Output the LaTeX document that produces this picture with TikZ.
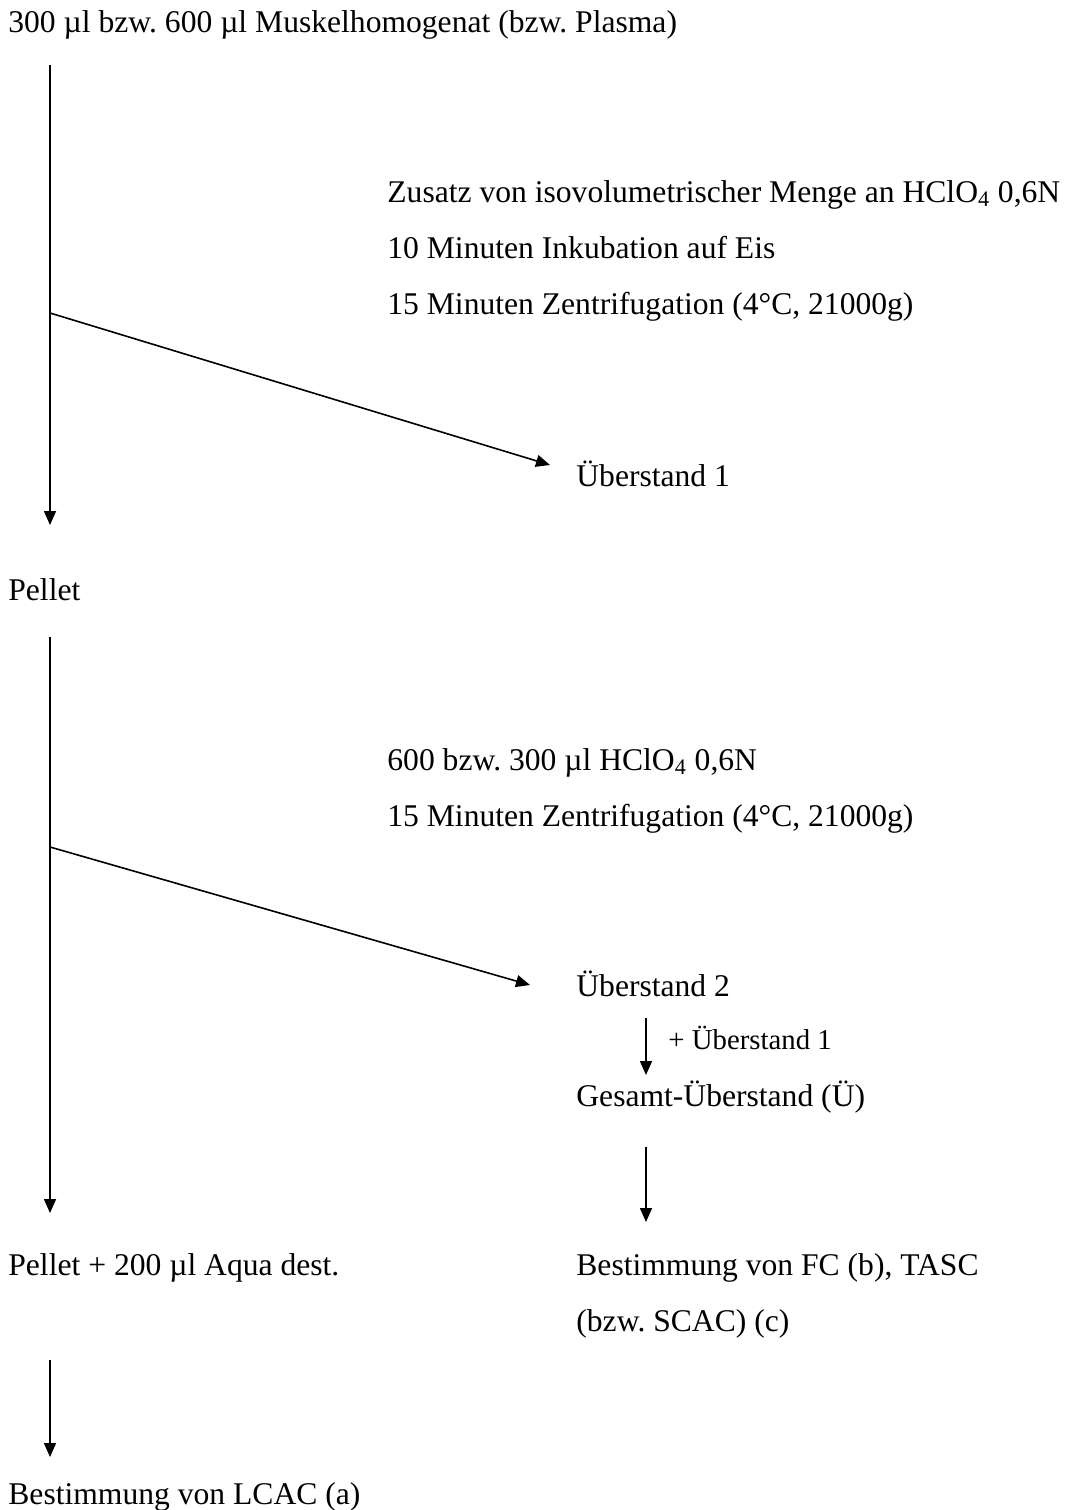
\documentclass[tikz,border=0pt]{standalone}
\usepackage{fontspec}
\setmainfont{Liberation Serif}
\usetikzlibrary{arrows.meta}
\frenchspacing

\begin{document}
\begin{tikzpicture}[x=0.5pt,y=-0.5pt,
  lbl/.style={anchor=base west,inner sep=0pt,font=\fontsize{15.8pt}{18pt}\selectfont},
  smalllbl/.style={anchor=base west,inner sep=0pt,font=\fontsize{14.4pt}{17pt}\selectfont},
  flow/.style={line width=0.8pt,-{Triangle[length=7pt,width=6pt]}}]
\path[use as bounding box] (0,0) rectangle (1072,1510);

% sample preparation and first precipitation
\node[lbl] (start) at (8,32) {300 µl bzw. 600 µl Muskelhomogenat (bzw. Plasma)};
\node[lbl] (add1) at (387,202) {Zusatz von isovolumetrischer Menge an HClO\textsubscript{4} 0,6N};
\node[lbl] (inc1) at (387,258) {10 Minuten Inkubation auf Eis};
\node[lbl] (cent1) at (387,314) {15 Minuten Zentrifugation (4°C, 21000g)};
\node[lbl] (sup1) at (576,486) {Überstand 1};
\node[lbl] (pellet1) at (8,600) {Pellet};

% second wash of the pellet
\node[lbl] (add2) at (387,770) {600 bzw. 300 µl HClO\textsubscript{4} 0,6N};
\node[lbl] (cent2) at (387,826) {15 Minuten Zentrifugation (4°C, 21000g)};
\node[lbl] (sup2) at (576,996) {Überstand 2};
\node[smalllbl] (plus1) at (668,1049) {+ Überstand 1};
\node[lbl] (total) at (576,1106) {Gesamt-Überstand (Ü)};

% determinations
\node[lbl] (pellet2) at (8,1275) {Pellet + 200 µl Aqua dest.};
\node[lbl] (detfc) at (576,1275) {Bestimmung von FC (b), TASC};
\node[lbl] (detfc2) at (576,1331) {(bzw. SCAC) (c)};
\node[lbl] (detlc) at (8,1504) {Bestimmung von LCAC (a)};

% connector end points
\coordinate (a1s) at (50,65);
\coordinate (a1e) at (50,525);
\coordinate (b1s) at (50,313);
\coordinate (b1e) at (550,465);
\coordinate (a2s) at (50,637);
\coordinate (a2e) at (50,1213);
\coordinate (b2s) at (50,847);
\coordinate (b2e) at (530,985);
\coordinate (a3s) at (646,1018);
\coordinate (a3e) at (646,1075);
\coordinate (a4s) at (646,1147);
\coordinate (a4e) at (646,1222);
\coordinate (a5s) at (50,1360);
\coordinate (a5e) at (50,1457);

\draw[flow] (a1s) -- (a1e);
\draw[flow] (b1s) -- (b1e);
\draw[flow] (a2s) -- (a2e);
\draw[flow] (b2s) -- (b2e);
\draw[flow] (a3s) -- (a3e);
\draw[flow] (a4s) -- (a4e);
\draw[flow] (a5s) -- (a5e);
\end{tikzpicture}
\end{document}
